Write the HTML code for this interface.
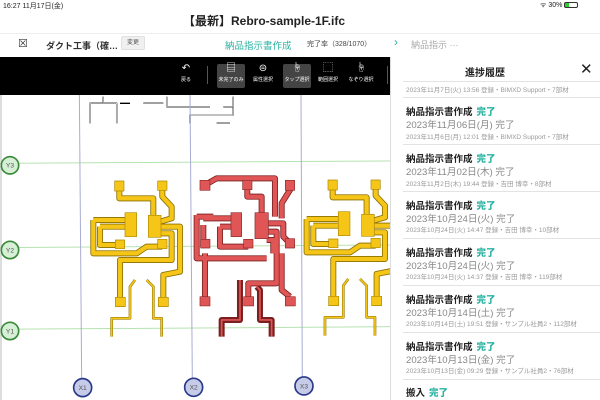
<!DOCTYPE html>
<html><head><meta charset="utf-8"><style>
*{margin:0;padding:0;box-sizing:border-box}
body{width:600px;height:400px;overflow:hidden;background:#fff;font-family:"Liberation Sans","Noto Sans CJK JP",sans-serif;position:relative}
.a{position:absolute;white-space:nowrap}
.t{font-size:9.5px;font-weight:bold;color:#222}
.t b{color:#2bb3a3;margin-left:4px}
.d{font-size:9.6px;color:#888}
.m{font-size:6.5px;color:#999}
.sep{position:absolute;left:403px;width:197px;height:1px;background:#e3e3e3}
.ic{position:absolute;top:62px;width:30px;text-align:center;color:#fff;font-size:5px}
.ic i{display:block;font-style:normal;font-size:10px;height:14px;line-height:14px}
</style></head><body>
<div class="a" style="left:3px;top:1px;font-size:7px;color:#222">16:27 11月17日(金)</div>
<div class="a" style="left:540px;top:1px;font-size:7px;color:#222">ᯤ 30% <span style="display:inline-block;width:14px;height:6px;border:1px solid #333;border-radius:2px;vertical-align:middle;background:linear-gradient(90deg,#3c3 35%,#fff 35%)"></span></div>
<div class="a" style="left:0;top:12px;width:528px;text-align:center;font-size:12px;font-weight:bold;color:#222">【最新】Rebro-sample-1F.ifc</div>
<div style="position:absolute;left:0;top:33px;width:600px;height:24px;background:#fff;border-top:1px solid #eee"></div>
<div class="a" style="left:18px;top:37px;font-size:11px;color:#333">☒</div>
<div class="a" style="left:46px;top:39px;font-size:9px;font-weight:bold;color:#333">ダクト工事（確…</div>
<div class="a" style="left:121px;top:36px;width:24px;height:14px;background:#f0f0f0;border:1px solid #e0e0e0;border-radius:2px;font-size:6px;color:#555;text-align:center;line-height:12px">変更</div>
<div class="a" style="left:225px;top:38px;font-size:9.5px;color:#2bb3a3">納品指示書作成</div>
<div class="a" style="left:307px;top:39px;font-size:7px;color:#444">完了率（328/1070）</div>
<div class="a" style="left:394px;top:35px;font-size:12px;color:#2bb3a3">›</div>
<div class="a" style="left:411px;top:38px;font-size:9px;color:#aaa">納品指示 ···</div>

<svg style="position:absolute;left:0;top:57px" width="390" height="343">
<g transform="translate(0,33) scale(0.3333)" fill="none" stroke-linejoin="round">
<g stroke="#000" stroke-width="4">
<path d="M270,100V40H350V80M310,40V20M350,40V100M430,40H490M500,20V50H630M570,100V75H700V20M670,50H700M650,100H690M390,40H360"/>
</g>
<g stroke="#fff" stroke-width="2">
<path d="M270,100V40H350V80M310,40V20M350,40V100M430,40H490M500,20V50H630M570,100V75H700V20M670,50H700M650,100H690"/>
</g>
<line x1="0" y1="220" x2="1170" y2="213" stroke="#b5e3b0" stroke-width="3"/>
<line x1="0" y1="473" x2="1170" y2="465" stroke="#b5e3b0" stroke-width="3"/>
<line x1="0" y1="718" x2="1170" y2="710" stroke="#b5e3b0" stroke-width="3"/>
<line x1="238" y1="0" x2="245" y2="865" stroke="#a9acd4" stroke-width="3"/>
<line x1="570" y1="0" x2="577" y2="865" stroke="#a9acd4" stroke-width="3"/>
<line x1="903" y1="0" x2="907" y2="860" stroke="#a9acd4" stroke-width="3"/>
<line x1="3" y1="0" x2="3" y2="930" stroke="#ccc" stroke-width="4"/>
<g id="y">
<g stroke="#8a7000" stroke-width="18"><path d="M358,290V325H460V380M487,290V320L515,350V385L480,395M280,390V490H410L440,470H487M300,410V465H360M300,410H375M280,390H375M480,410H540V545L490,555V635M480,430H515V510H360V635"/></g>
<g stroke="#f5c518" stroke-width="13"><path d="M358,290V325H460V380M487,290V320L515,350V385L480,395M280,390V490H410L440,470H487M300,410V465H360M300,410H375M280,390H375M480,410H540V545L490,555V635M480,430H515V510H360V635"/></g>
<g stroke="#8a7000" stroke-width="8"><path d="M405,570L390,590V685H335V740M440,570L460,590V685H485V740"/></g>
<g stroke="#f5c518" stroke-width="5"><path d="M405,570L390,590V685H335V740M440,570L460,590V685H485V740"/></g>
<g fill="#f5c518" stroke="#b08a00" stroke-width="2">
<rect x="344" y="273" width="28" height="30"/><rect x="473" y="273" width="28" height="28"/>
<rect x="375" y="368" width="35" height="72"/><rect x="445" y="376" width="38" height="66"/>
<rect x="346" y="450" width="28" height="26"/><rect x="473" y="448" width="28" height="28"/>
<rect x="346" y="622" width="30" height="28"/><rect x="475" y="622" width="30" height="28"/>
</g></g>
<use href="#y" transform="translate(640,-3)"/>
<g>
<g stroke="#7a2020" stroke-width="18"><path d="M615,285L650,265H825V380M742,285V320H785V370M870,285V300L845,340V385M590,375V505H800M610,385H695M610,405V470M660,410V470H745M660,410H695M590,380H640M805,400H850V440L870,460M805,425H830V580H745V635M615,490V635M800,450H820V490M845,490V600L870,620M720,570V690H665V740M770,590L780,600V690H815V740"/></g>
<g stroke="#e05555" stroke-width="13"><path d="M615,285L650,265H825V380M742,285V320H785V370M870,285V300L845,340V385M590,375V505H800M610,385H695M610,405V470M660,410V470H745M660,410H695M590,380H640M805,400H850V440L870,460M805,425H830V580H745V635M615,490V635M800,450H820V490M845,490V600L870,620"/></g>
<g stroke="#e05555" stroke-width="5"><path d="M720,570V690H665V740M770,590L780,600V690H815V740"/></g>
<g fill="#e05555" stroke="#8a2a2a" stroke-width="2">
<rect x="600" y="271" width="30" height="30"/><rect x="728" y="271" width="28" height="28"/><rect x="856" y="271" width="28" height="30"/>
<rect x="693" y="368" width="32" height="72"/><rect x="765" y="368" width="40" height="78"/>
<rect x="602" y="448" width="28" height="26"/><rect x="731" y="448" width="28" height="26"/><rect x="856" y="446" width="28" height="28"/>
<rect x="600" y="620" width="30" height="28"/><rect x="731" y="620" width="30" height="28"/><rect x="856" y="620" width="30" height="28"/>
</g></g>
<g font-family="Liberation Sans" font-size="20" text-anchor="middle">
<circle cx="30" cy="226" r="26" fill="#d6f0d6" stroke="#3a8a3a" stroke-width="5"/><text x="30" y="233" fill="#555">Y3</text>
<circle cx="30" cy="480" r="26" fill="#d6f0d6" stroke="#3a8a3a" stroke-width="5"/><text x="30" y="487" fill="#555">Y2</text>
<circle cx="30" cy="723" r="26" fill="#d6f0d6" stroke="#3a8a3a" stroke-width="5"/><text x="30" y="730" fill="#555">Y1</text>
<circle cx="248" cy="893" r="27" fill="#c6cbe8" stroke="#2a3a8a" stroke-width="5"/><text x="248" y="900" fill="#555">X1</text>
<circle cx="581" cy="892" r="27" fill="#c6cbe8" stroke="#2a3a8a" stroke-width="5"/><text x="581" y="899" fill="#555">X2</text>
<circle cx="912" cy="888" r="27" fill="#c6cbe8" stroke="#2a3a8a" stroke-width="5"/><text x="912" y="895" fill="#555">X3</text>
</g>
</g></svg>

<div style="position:absolute;left:0;top:57px;width:390px;height:38px;background:#000"></div>
<div style="position:absolute;left:207px;top:66px;width:1px;height:18px;background:#555"></div>
<div style="position:absolute;left:387px;top:66px;width:1px;height:18px;background:#555"></div>
<div style="position:absolute;left:217px;top:64px;width:28px;height:24px;background:#444;border-radius:2px"></div>
<div style="position:absolute;left:283px;top:64px;width:28px;height:24px;background:#444;border-radius:2px"></div>
<div class="ic" style="left:171px"><i>↶</i>戻る</div>
<div class="ic" style="left:216px"><i>▤</i>未完了のみ</div>
<div class="ic" style="left:248px"><i>⊜</i>属性選択</div>
<div class="ic" style="left:282px"><i>☝</i>タップ選択</div>
<div class="ic" style="left:313px"><i>⬚</i>範囲選択</div>
<div class="ic" style="left:346px"><i>☝</i>なぞり選択</div>

<div style="position:absolute;left:390px;top:57px;width:210px;height:343px;background:#fff;border-left:1px solid #ddd"></div>
<div class="a" style="left:465px;top:64px;font-size:10px;font-weight:bold;color:#222">進捗履歴</div>
<div class="a" style="left:580px;top:60px;font-size:15px;color:#222">✕</div>
<div class="sep" style="top:81px"></div>
<div class="a m" style="left:406px;top:84px">2023年11月7日(火) 13:56 登録・BIMXD Support・7部材</div>
<div class="sep" style="top:97px"></div>
<div class="a t" style="left:406px;top:104px">納品指示書作成<b>完了</b></div><div class="a d" style="left:406px;top:117px">2023年11月06日(月) 完了</div><div class="a m" style="left:406px;top:131px">2023年11月6日(月) 12:01 登録・BIMXD Support・7部材</div>
<div class="sep" style="top:144px"></div>
<div class="a t" style="left:406px;top:151px">納品指示書作成<b>完了</b></div><div class="a d" style="left:406px;top:164px">2023年11月02日(木) 完了</div><div class="a m" style="left:406px;top:178px">2023年11月2日(木) 19:44 登録・吉田 博幸・8部材</div>
<div class="sep" style="top:191px"></div>
<div class="a t" style="left:406px;top:198px">納品指示書作成<b>完了</b></div><div class="a d" style="left:406px;top:211px">2023年10月24日(火) 完了</div><div class="a m" style="left:406px;top:224px">2023年10月24日(火) 14:47 登録・吉田 博幸・10部材</div>
<div class="sep" style="top:238px"></div>
<div class="a t" style="left:406px;top:245px">納品指示書作成<b>完了</b></div><div class="a d" style="left:406px;top:258px">2023年10月24日(火) 完了</div><div class="a m" style="left:406px;top:271px">2023年10月24日(火) 14:37 登録・吉田 博幸・119部材</div>
<div class="sep" style="top:285px"></div>
<div class="a t" style="left:406px;top:292px">納品指示書作成<b>完了</b></div><div class="a d" style="left:406px;top:305px">2023年10月14日(土) 完了</div><div class="a m" style="left:406px;top:318px">2023年10月14日(土) 19:51 登録・サンプル社員2・112部材</div>
<div class="sep" style="top:332px"></div>
<div class="a t" style="left:406px;top:339px">納品指示書作成<b>完了</b></div><div class="a d" style="left:406px;top:352px">2023年10月13日(金) 完了</div><div class="a m" style="left:406px;top:365px">2023年10月13日(金) 09:29 登録・サンプル社員2・76部材</div>
<div class="sep" style="top:379px"></div>
<div class="a t" style="left:406px;top:385px">搬入<b>完了</b></div>
</body></html>
